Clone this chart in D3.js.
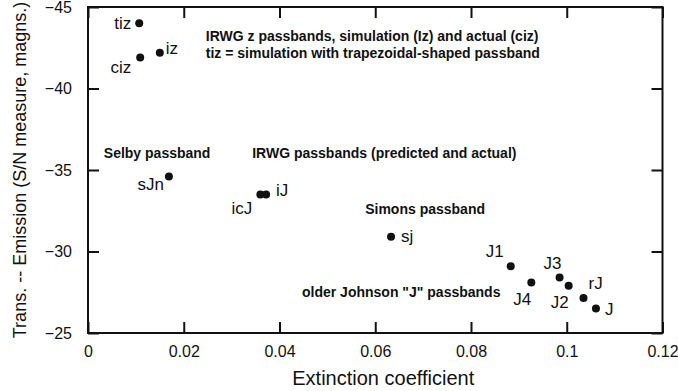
<!DOCTYPE html>
<html>
<head>
<meta charset="utf-8">
<script src="https://cdn.jsdelivr.net/npm/d3@7/dist/d3.min.js"></script>
<style>
  html, body { margin: 0; padding: 0; background: #fff; }
  svg { display: block; }
  text { font-family: "Liberation Sans", Arial, Helvetica, sans-serif; fill: #111; }
</style>
</head>
<body>
<svg id="chart" width="678" height="391"></svg>
<script>
// Passband names and their measured values
const names = ["tiz", "iz", "ciz", "sJn", "icJ", "iJ", "sj", "J1", "J4", "J3", "J2", "rJ", "J"];
const extinction = [0.0107, 0.0150, 0.0109, 0.0169, 0.0360, 0.0372, 0.0633, 0.0883, 0.0926, 0.0985, 0.1004, 0.1035, 0.1061];
const transEmission = [-44.0, -42.2, -41.9, -34.6, -33.5, -33.5, -30.9, -29.1, -28.1, -28.4, -27.9, -27.15, -26.5];

// Axis ticks
const xTicks = [0, 0.02, 0.04, 0.06, 0.08, 0.1, 0.12];
const xTickLabels = ["0", "0.02", "0.04", "0.06", "0.08", "0.1", "0.12"];
const yTicks = [-45, -40, -35, -30, -25];
const yTickLabels = ["\u221245", "\u221240", "\u221235", "\u221230", "\u221225"];

// Group notes, anchored in data coordinates
const noteTexts = [
  "IRWG z passbands, simulation (Iz) and actual (ciz)",
  "tiz = simulation with trapezoidal-shaped passband",
  "Selby passband",
  "IRWG passbands (predicted and actual)",
  "Simons passband",
  "older Johnson \"J\" passbands"
];
const noteX = [0.0246, 0.0246, 0.0033, 0.0343, 0.0579, 0.0447];
const noteY = [-42.91, -41.87, -35.74, -35.74, -32.33, -27.22];

// Point label placement (anchor, dx, dy in px)
const labelPlacement = {
  tiz: ["end", -8, 6], iz: ["start", 6, 1], ciz: ["end", -9, 15],
  sJn: ["end", -5, 13], icJ: ["end", -8, 20], iJ: ["start", 10, 2],
  sj: ["start", 10, 5], J1: ["end", -7, -9], J4: ["end", 0, 23],
  J3: ["end", 2, -9], J2: ["end", 0, 22], rJ: ["start", 5, -9], J: ["start", 9, 6]
};

const svg = d3.select("#chart");
const plotLeft = 88, plotRight = 662.5, plotTop = 7, plotBottom = 333;

const x = d3.scaleLinear().domain([0, 0.12]).range([plotLeft, plotRight]);
const y = d3.scaleLinear().domain([-45, -25]).range([plotTop, plotBottom]);

const tickLen = 11;

// Bottom axis with labels, ticks pointing inward
const gx = svg.append("g")
  .attr("transform", `translate(0,${plotBottom})`)
  .call(d3.axisBottom(x).tickValues(xTicks)
    .tickFormat((d, i) => xTickLabels[i])
    .tickSize(-tickLen).tickPadding(13));
gx.selectAll("text").style("font-size", "16px");

// Left axis with labels
const gy = svg.append("g")
  .attr("transform", `translate(${plotLeft},0)`)
  .call(d3.axisLeft(y).tickValues(yTicks)
    .tickFormat((d, i) => yTickLabels[i])
    .tickSize(-tickLen).tickPadding(16));
gy.selectAll("text").style("font-size", "16px");

// Top and right axes: ticks only
svg.append("g")
  .attr("transform", `translate(0,${plotTop})`)
  .call(d3.axisTop(x).tickValues(xTicks).tickFormat("").tickSize(-tickLen));
svg.append("g")
  .attr("transform", `translate(${plotRight},0)`)
  .call(d3.axisRight(y).tickValues(yTicks).tickFormat("").tickSize(-tickLen));

svg.selectAll(".domain").remove();
svg.selectAll(".tick line").attr("stroke", "#111").attr("stroke-width", 2);
svg.selectAll(".tick text").attr("fill", "#111").attr("font-family", null);

// Plot frame
svg.append("rect")
  .attr("x", plotLeft).attr("y", plotTop)
  .attr("width", plotRight - plotLeft).attr("height", plotBottom - plotTop)
  .attr("fill", "none").attr("stroke", "#111").attr("stroke-width", 2);

// Axis titles
svg.append("text")
  .attr("x", (plotLeft + plotRight) / 2 + 8).attr("y", 385)
  .attr("text-anchor", "middle")
  .style("font-size", "20px")
  .text("Extinction coefficient");

svg.append("text")
  .attr("transform", `translate(26,${(plotTop + plotBottom) / 2}) rotate(-90)`)
  .attr("text-anchor", "middle")
  .style("font-size", "18px")
  .text("Trans. -- Emission (S/N measure, magns.)");

// Points
const pts = names.map((n, i) => ({ name: n, ext: extinction[i], te: transEmission[i] }));

svg.append("g").selectAll("circle")
  .data(pts).join("circle")
  .attr("cx", d => x(d.ext)).attr("cy", d => y(d.te))
  .attr("r", 4).attr("fill", "#111");

svg.append("g").selectAll("text")
  .data(pts).join("text")
  .attr("x", d => x(d.ext) + labelPlacement[d.name][1])
  .attr("y", d => y(d.te) + labelPlacement[d.name][2])
  .attr("text-anchor", d => labelPlacement[d.name][0])
  .style("font-size", "17px")
  .text(d => d.name);

// Group notes
svg.append("g").selectAll("text")
  .data(noteTexts).join("text")
  .attr("x", (d, i) => x(noteX[i]))
  .attr("y", (d, i) => y(noteY[i]))
  .style("font-size", "14px").style("font-weight", "bold")
  .text(d => d);
</script>
</body>
</html>
